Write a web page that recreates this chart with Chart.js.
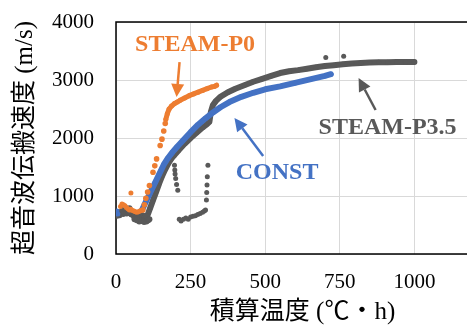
<!DOCTYPE html>
<html>
<head>
<meta charset="utf-8">
<script src="https://cdn.jsdelivr.net/npm/chart.js@4/dist/chart.umd.min.js"></script>
<style>
html, body { margin: 0; padding: 0; background: #fff; overflow: hidden; }
#wrap { width: 467px; height: 329px; overflow: hidden; }
</style>
</head>
<body>
<div id="wrap"><canvas id="chartId" width="526" height="329"></canvas></div>
<script>
// axis ticks
var xTicks = [0, 250, 500, 750, 1000, 1250];
var yTicks = [0, 1000, 2000, 3000, 4000];

// STEAM-P0 (orange)
var p0LowX = [15, 20, 25, 30, 35, 40, 45, 50, 55, 60, 65, 70, 75, 80, 85, 50];
var p0LowY = [820, 860, 850, 830, 800, 780, 760, 770, 750, 740, 730, 720, 730, 740, 750, 1050];
var p0RiseX = [90, 95, 100, 106, 112, 124, 130, 136, 148, 154, 160, 165];
var p0RiseY = [760, 850, 960, 1070, 1180, 1410, 1520, 1640, 1870, 1980, 2120, 2250];
var p0BandX = [167, 172, 178, 186, 195, 205, 215, 230, 245, 260, 275, 290, 305, 320, 330, 337];
var p0BandY = [2320, 2420, 2500, 2550, 2590, 2620, 2650, 2690, 2730, 2760, 2790, 2820, 2850, 2880, 2890, 2910];

// CONST (blue)
var constLowX = [0, 3, 6];
var constLowY = [700, 740, 690];
var constX = [87, 100, 115, 130, 145, 160, 175, 190, 205, 225, 250, 275, 300, 325, 350, 380, 420, 460, 500, 550, 600, 650, 700, 720];
var constY = [760, 900, 1060, 1220, 1380, 1540, 1660, 1760, 1850, 1960, 2100, 2230, 2340, 2440, 2530, 2620, 2710, 2780, 2840, 2890, 2950, 3010, 3070, 3100];

// STEAM-P3.5 (gray)
var p35LowX = [0, 4, 8, 12, 16, 20, 24, 28, 32, 36, 40, 44, 48, 52, 56, 60, 64, 68, 72, 76, 80, 84, 88, 92, 96, 100, 62, 70, 78, 86, 94, 102, 108, 112, 30, 45];
var p35LowY = [690, 660, 720, 670, 700, 740, 690, 720, 760, 700, 740, 720, 700, 680, 710, 650, 700, 660, 680, 640, 680, 640, 620, 660, 630, 650, 600, 580, 560, 570, 550, 560, 580, 600, 800, 790];
var p35X = [105, 115, 125, 135, 145, 155, 165, 175, 185, 195, 210, 230, 250, 270, 290, 305, 313, 318, 325, 335, 350, 375, 400, 430, 460, 490, 520, 550, 580, 610, 640, 670, 700, 730, 760, 790, 820, 850, 880, 910, 940, 970, 1000];
var p35Y = [660, 800, 940, 1080, 1220, 1350, 1460, 1560, 1640, 1700, 1790, 1900, 2000, 2090, 2180, 2240, 2280, 2450, 2570, 2640, 2710, 2790, 2850, 2910, 2970, 3020, 3070, 3120, 3150, 3170, 3195, 3220, 3240, 3255, 3270, 3285, 3295, 3300, 3305, 3305, 3310, 3310, 3310];
var p35DotX = [196, 197, 198, 200, 203, 207, 212, 218, 226, 234, 242, 250, 258, 266, 274, 282, 290, 296, 300, 303, 304, 305, 306, 308, 703, 763];
var p35DotY = [1530, 1450, 1380, 1300, 1200, 1100, 600, 570, 600, 620, 600, 640, 650, 660, 680, 700, 720, 740, 760, 930, 1060, 1190, 1330, 1530, 3390, 3410];

var ORANGE = '#ED7D31', BLUE = '#4472C4', GRAY = '#595959';
var FONT = "'Liberation Serif', 'Noto Sans CJK JP', serif";

// annotation labels and arrows (data coordinates)
var noteText = ['STEAM-P0', 'CONST', 'STEAM-P3.5'];
var noteColor = [ORANGE, BLUE, GRAY];
var notePos = [[265, 3600], [540, 1400], [910, 2170]];
var arrowFrom = [[213, 3310], [493, 1690], [870, 2483]];
var arrowTo = [[203, 2707], [397, 2345], [813, 3034]];

function toPoints(xs, ys) {
    return xs.map(function(x, i) { return {x: x, y: ys[i]}; });
}

function dots(xs, ys, color, r) {
    return { data: toPoints(xs, ys), backgroundColor: color, borderWidth: 0, pointRadius: r, showLine: false };
}

function band(xs, ys, color, w) {
    return { data: toPoints(xs, ys), borderColor: color, backgroundColor: color, borderWidth: w,
             pointRadius: 2.5, pointBorderWidth: 0, showLine: true, borderCapStyle: 'round', borderJoinStyle: 'round', tension: 0 };
}

function drawArrow(ctx, x0, y0, x1, y1) {
    var ang = Math.atan2(y1 - y0, x1 - x0);
    var len = 13, half = 6.5;
    var bx = x1 - Math.cos(ang) * len, by = y1 - Math.sin(ang) * len;
    ctx.lineWidth = 2.5;
    ctx.beginPath(); ctx.moveTo(x0, y0); ctx.lineTo(bx, by); ctx.stroke();
    ctx.beginPath();
    ctx.moveTo(x1, y1);
    ctx.lineTo(bx + Math.sin(ang) * half, by - Math.cos(ang) * half);
    ctx.lineTo(bx - Math.sin(ang) * half, by + Math.cos(ang) * half);
    ctx.closePath(); ctx.fill();
}

var framePlugin = {
    id: 'frame',
    beforeDatasetsDraw: function(chart) {
        var a = chart.chartArea, ctx = chart.ctx;
        ctx.save();
        ctx.strokeStyle = '#000'; ctx.lineWidth = 1.5;
        ctx.strokeRect(a.left, a.top, a.right - a.left, a.bottom - a.top);
        ctx.restore();
    }
};

var notesPlugin = {
    id: 'notes',
    afterDatasetsDraw: function(chart) {
        var ctx = chart.ctx, xs = chart.scales.x, ys = chart.scales.y;
        ctx.save();
        ctx.font = "bold 24px 'Liberation Serif'";
        ctx.textAlign = 'center'; ctx.textBaseline = 'middle';
        for (var i = 0; i < noteText.length; i++) {
            ctx.fillStyle = noteColor[i]; ctx.strokeStyle = noteColor[i];
            ctx.fillText(noteText[i], xs.getPixelForValue(notePos[i][0]), ys.getPixelForValue(notePos[i][1]));
            drawArrow(ctx, xs.getPixelForValue(arrowFrom[i][0]), ys.getPixelForValue(arrowFrom[i][1]),
                      xs.getPixelForValue(arrowTo[i][0]), ys.getPixelForValue(arrowTo[i][1]));
        }
        ctx.restore();
    }
};

function plain(v) { return String(v); }

var chartEl = document.getElementById('chartId').getContext('2d');
var chart = new Chart(chartEl, {
    type: 'scatter',
    data: {
        datasets: [
            dots(p0LowX, p0LowY, ORANGE, 2.5),
            dots(p0RiseX, p0RiseY, ORANGE, 2.8),
            band(p0BandX, p0BandY, ORANGE, 5),
            dots(constLowX, constLowY, BLUE, 2.5),
            band(constX, constY, BLUE, 6),
            dots(p35LowX, p35LowY, GRAY, 3),
            band(p35X, p35Y, GRAY, 6),
            dots(p35DotX, p35DotY, GRAY, 2.5)
        ]
    },
    options: {
        responsive: false,
        animation: false,
        layout: { padding: { left: 0, right: 21, top: 22, bottom: 0 } },
        plugins: { legend: { display: false }, tooltip: { enabled: false } },
        scales: {
            x: {
                type: 'linear', min: 0, max: 1250,
                afterBuildTicks: function(s) { s.ticks = xTicks.map(function(v) { return {value: v}; }); },
                afterFit: function(s) { s.height = 75; },
                ticks: { color: '#000', font: { family: FONT, size: 21 }, padding: 16, maxRotation: 0, callback: plain },
                grid: { color: '#D9D9D9', lineWidth: 1, drawTicks: false },
                border: { display: false },
                title: { display: true, text: '積算温度 (℃・h)', color: '#000', font: { family: FONT, size: 25 }, padding: { top: 0, bottom: 2 } }
            },
            y: {
                type: 'linear', min: 0, max: 4000,
                afterBuildTicks: function(s) { s.ticks = yTicks.map(function(v) { return {value: v}; }); },
                afterFit: function(s) { s.width = 116; s.paddingTop = 0; s.paddingBottom = 0; },
                ticks: { color: '#000', font: { family: FONT, size: 21 }, padding: 22, callback: plain },
                grid: { color: '#D9D9D9', lineWidth: 1, drawTicks: false },
                border: { display: false },
                title: { display: true, text: '超音波伝搬速度 (m/s)', color: '#000', font: { family: FONT, size: 25 }, padding: { top: 10, bottom: 0 } }
            }
        }
    },
    plugins: [framePlugin, notesPlugin]
});
</script>
</body>
</html>
